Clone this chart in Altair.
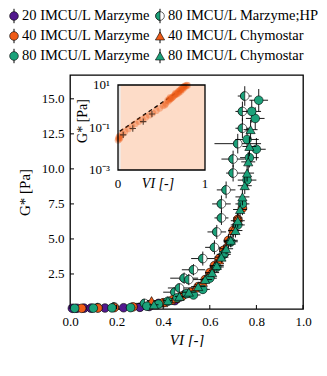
import altair as alt
import pandas as pd

W, H = 233, 234
YMAX = 16.7

# ---------------- main data ----------------
m20_vi = [0.01, 0.03, 0.06, 0.09, 0.15, 0.23, 0.30, 0.34, 0.38, 0.45, 0.47, 0.49]
m20_g = [0.05, 0.05, 0.06, 0.06, 0.07, 0.09, 0.12, 0.18, 0.40, 0.60, 0.85, 1.05]
m20_xe = [0.01, 0.01, 0.01, 0.01, 0.015, 0.015, 0.02, 0.02, 0.02, 0.02, 0.02, 0.02]
m20_ye = [0.03, 0.03, 0.03, 0.03, 0.03, 0.04, 0.05, 0.05, 0.08, 0.10, 0.15, 0.15]

m40_vi = [0.05, 0.12, 0.19, 0.27, 0.34, 0.40, 0.44, 0.48, 0.52, 0.55, 0.58, 0.60, 0.62, 0.64, 0.66, 0.68, 0.70, 0.72, 0.74]
m40_g = [0.05, 0.07, 0.10, 0.15, 0.25, 0.45, 0.65, 0.90, 1.2, 1.6, 2.1, 2.6, 3.1, 3.6, 4.2, 4.9, 5.6, 6.4, 7.2]
m40_xe = [0.01, 0.01, 0.015, 0.02, 0.02, 0.02, 0.02, 0.02, 0.02, 0.02, 0.02, 0.02, 0.02, 0.02, 0.02, 0.02, 0.02, 0.02, 0.02]
m40_ye = [0.03, 0.03, 0.05, 0.05, 0.1, 0.1, 0.15, 0.2, 0.2, 0.25, 0.3, 0.3, 0.35, 0.4, 0.4, 0.45, 0.5, 0.5, 0.5]

m80_vi = [0.02, 0.10, 0.18, 0.26, 0.33, 0.38, 0.42, 0.46, 0.50, 0.53, 0.57, 0.60, 0.63, 0.66, 0.69, 0.72, 0.74, 0.76, 0.77, 0.80, 0.76, 0.795, 0.78, 0.81]
m80_g = [0.05, 0.06, 0.08, 0.10, 0.20, 0.35, 0.55, 0.80, 1.1, 1.0, 1.4, 2.2, 3.0, 3.9, 4.8, 6.0, 7.5, 9.2, 10.8, 11.4, 12.1, 13.6, 14.1, 14.9]
m80_xe = [0.01, 0.01, 0.015, 0.02, 0.02, 0.02, 0.02, 0.02, 0.03, 0.03, 0.03, 0.03, 0.03, 0.03, 0.03, 0.03, 0.03, 0.04, 0.04, 0.04, 0.05, 0.04, 0.04, 0.04]
m80_ye = [0.03, 0.03, 0.05, 0.05, 0.1, 0.1, 0.15, 0.2, 0.2, 0.25, 0.3, 0.3, 0.35, 0.4, 0.4, 0.5, 0.6, 0.7, 0.7, 0.8, 0.8, 0.8, 0.8, 0.8]

hp_vi = [0.12, 0.19, 0.32, 0.45, 0.47, 0.49, 0.51, 0.53, 0.57, 0.62, 0.63, 0.65, 0.65, 0.67, 0.70, 0.70, 0.72, 0.74, 0.74, 0.75]
hp_g = [0.10, 0.15, 0.40, 1.2, 1.5, 2.2, 2.1, 2.8, 3.6, 4.4, 5.5, 6.5, 7.5, 8.5, 9.7, 10.7, 11.8, 12.9, 14.1, 15.2]
hp_xe = [0.02, 0.02, 0.06, 0.05, 0.05, 0.06, 0.04, 0.05, 0.05, 0.04, 0.04, 0.03, 0.04, 0.04, 0.03, 0.05, 0.10, 0.03, 0.03, 0.03]
hp_ye = [0.05, 0.05, 0.2, 0.3, 0.3, 0.4, 0.4, 0.4, 0.5, 0.5, 0.5, 0.5, 0.6, 0.6, 0.6, 0.6, 0.7, 0.7, 0.7, 0.7]

c40_vi = [0.35, 0.40, 0.45, 0.50, 0.54, 0.57, 0.60, 0.62, 0.64, 0.66, 0.68, 0.70, 0.72]
c40_g = [0.60, 0.45, 0.75, 1.1, 1.5, 1.9, 2.5, 3.0, 3.5, 4.1, 4.8, 5.6, 6.5]
c40_xe = [0.02, 0.02, 0.02, 0.02, 0.02, 0.02, 0.02, 0.02, 0.02, 0.02, 0.02, 0.02, 0.02]
c40_ye = [0.1, 0.1, 0.15, 0.2, 0.25, 0.3, 0.3, 0.35, 0.4, 0.4, 0.45, 0.5, 0.5]

c80_vi = [0.36, 0.42, 0.47, 0.51, 0.55, 0.58, 0.61, 0.63, 0.65, 0.67, 0.69, 0.71, 0.72, 0.73, 0.74, 0.75, 0.76, 0.765, 0.77, 0.775]
c80_g = [0.3, 0.6, 0.9, 1.2, 1.6, 2.1, 2.6, 3.1, 3.7, 4.3, 4.9, 5.6, 6.3, 7.1, 8.0, 8.8, 9.7, 10.5, 11.6, 12.8]
c80_xe = [0.02, 0.02, 0.02, 0.03, 0.03, 0.03, 0.03, 0.03, 0.03, 0.03, 0.03, 0.03, 0.03, 0.03, 0.03, 0.03, 0.03, 0.03, 0.03, 0.03]
c80_ye = [0.1, 0.15, 0.2, 0.2, 0.25, 0.3, 0.3, 0.35, 0.4, 0.4, 0.45, 0.5, 0.5, 0.5, 0.6, 0.6, 0.6, 0.7, 0.7, 0.7]

series_names = ["20 IMCU/L Marzyme", "40 IMCU/L Marzyme", "80 IMCU/L Marzyme",
                "80 IMCU/L Marzyme;HP", "40 IMCU/L Chymostar", "80 IMCU/L Chymostar"]
legend_col = [0, 0, 0, 1, 1, 1]
legend_row = [0, 1, 2, 0, 1, 2]

xticks = [0.0, 0.2, 0.4, 0.6, 0.8, 1.0]
yticks = [2.5, 5.0, 7.5, 10.0, 12.5, 15.0]

# ---------------- inset data ----------------
inset_vi = [0.0, 0.005, 0.01, 0.015, 0.02, 0.025, 0.05, 0.08, 0.12, 0.16, 0.2, 0.24, 0.28, 0.32,
            0.36, 0.4, 0.44, 0.48, 0.52, 0.55, 0.57, 0.58, 0.6, 0.6, 0.62, 0.63, 0.64, 0.66, 0.66,
            0.68, 0.69, 0.7, 0.71, 0.72, 0.73, 0.74, 0.75, 0.76, 0.77, 0.78,
            0.54, 0.59, 0.61, 0.65, 0.67, 0.7, 0.72, 0.74, 0.76, 0.79, 0.8]
inset_g = [0.025, 0.03, 0.035, 0.028, 0.04, 0.033, 0.05, 0.065, 0.085, 0.11, 0.15, 0.19, 0.24, 0.3,
           0.38, 0.48, 0.62, 0.8, 1.05, 1.35, 1.9, 1.7, 2.1, 2.6, 2.5, 2.7, 3.0, 3.5, 4.0,
           3.8, 4.8, 4.3, 5.5, 5.0, 6.8, 6.0, 8.0, 7.3, 9.2, 8.8,
           1.15, 2.2, 2.3, 3.3, 3.9, 5.1, 6.1, 7.0, 8.4, 10.0, 9.6]
plus_vi = [0.06, 0.17, 0.29, 0.39]
plus_g = [0.045, 0.09, 0.19, 0.43]
fit_vi = [0.02, 0.80]
fit_g = [0.065, 9.8]
inset_xticks = [0, 1]
inset_xlabels = ["0", "1"]
inset_yticks = [0.001, 0.1, 10]
inset_ylabels = ["10⁻³", "10⁻¹", "10¹"]
inset_xlim = [0.0, 1.0]
inset_ylim = [0.001, 10.0]
strip_end = 0.03

PURPLE = "#52198e"
ORANGE = "#ef5b17"
GREEN = "#1ba27a"
PEACH = "#fddcc8"
HALF = "M0,-1A1,1,0,0,0,0,1Z"
MS = 75
FONT = "Liberation Serif"

# ---------------- build tables ----------------
rows = []
for name, vi, g, xe, ye in [
    (series_names[0], m20_vi, m20_g, m20_xe, m20_ye),
    (series_names[1], m40_vi, m40_g, m40_xe, m40_ye),
    (series_names[2], m80_vi, m80_g, m80_xe, m80_ye),
    (series_names[3], hp_vi, hp_g, hp_xe, hp_ye),
    (series_names[4], c40_vi, c40_g, c40_xe, c40_ye),
    (series_names[5], c80_vi, c80_g, c80_xe, c80_ye),
]:
    for a, b, c, d in zip(vi, g, xe, ye):
        rows.append(dict(series=name, VI=a, G=b, x_lo=a - c, x_hi=a + c,
                         g_lo=max(b - d, 0.0), g_hi=b + d))
main_df = pd.DataFrame(rows)

xs = alt.Scale(domain=[0, 1], nice=False, zero=False)
ys = alt.Scale(domain=[0, YMAX], nice=False, zero=False)

style = {
    series_names[0]: (PURPLE, "circle", False),
    series_names[1]: (ORANGE, "circle", False),
    series_names[2]: (GREEN, "circle", False),
    series_names[3]: (GREEN, "circle", True),
    series_names[4]: (ORANGE, "triangle-up", False),
    series_names[5]: (GREEN, "triangle-up", False),
}


def main_series(name):
    color, shape, hp = style[name]
    base = alt.Chart(main_df).transform_filter(alt.datum.series == name)
    hb = base.mark_rule(color="black", strokeWidth=0.9).encode(
        x=alt.X("x_lo:Q", scale=xs, axis=None), x2="x_hi:Q",
        y=alt.Y("G:Q", scale=ys, axis=None))
    vb = base.mark_rule(color="black", strokeWidth=0.9).encode(
        x=alt.X("VI:Q", scale=xs, axis=None),
        y=alt.Y("g_lo:Q", scale=ys, axis=None), y2="g_hi:Q")
    enc = dict(x=alt.X("VI:Q", scale=xs, axis=None), y=alt.Y("G:Q", scale=ys, axis=None))
    out = [hb, vb]
    if hp:
        out.append(base.mark_point(shape="circle", filled=True, fill="white", stroke="black",
                                   strokeWidth=0.6, size=MS, opacity=1).encode(**enc))
        out.append(base.mark_point(shape=HALF, filled=True, fill=color, stroke="black",
                                   strokeWidth=0.6, size=MS, opacity=1).encode(**enc))
    else:
        sz = 85 if shape == "triangle-up" else MS
        out.append(base.mark_point(shape=shape, filled=True, fill=color, stroke="black",
                                   strokeWidth=0.6, size=sz, opacity=1).encode(**enc))
    return out


main_layers = []
for nm in [series_names[0], series_names[3], series_names[1], series_names[4],
           series_names[2], series_names[5]]:
    main_layers += main_series(nm)

axis_layer = alt.Chart(main_df).mark_point(opacity=0).encode(
    x=alt.X("VI:Q", scale=xs, axis=alt.Axis(
        orient="bottom", values=xticks, format=".1f", ticks=False, domain=False, grid=False,
        labelFlush=False, labelPadding=6, title="VI [-]", titlePadding=4,
        titleFontStyle="italic")),
    y=alt.Y("G:Q", scale=ys, axis=alt.Axis(
        orient="left", values=yticks, format=".1f", ticks=False, domain=False, grid=False,
        labelPadding=6, title="G* [Pa]", titlePadding=9)))

# inward tick marks, placed by the main scales
xt_ticks = alt.Chart(pd.DataFrame({"t": xticks})).mark_rule(color="black", strokeWidth=1).encode(
    x=alt.X("t:Q", scale=xs, axis=None), y=alt.value(H), y2=alt.value(H - 4))
yt_ticks = alt.Chart(pd.DataFrame({"t": yticks})).mark_rule(color="black", strokeWidth=1).encode(
    y=alt.Y("t:Q", scale=ys, axis=None), x=alt.value(0), x2=alt.value(4))

main = alt.layer(*main_layers, xt_ticks, yt_ticks, axis_layer).resolve_axis(
    x="independent", y="independent")

# ---------------- inset ----------------
ixs = alt.Scale(domain=inset_xlim, range=[48, 135], nice=False, zero=False)
iys = alt.Scale(type="log", domain=inset_ylim, range=[95, 10], nice=False)

box_df = pd.DataFrame({"x0": [inset_xlim[0]], "xs": [strip_end], "x1": [inset_xlim[1]],
                       "y0": [inset_ylim[0]], "y1": [inset_ylim[1]]})
strip = alt.Chart(box_df).mark_rect(fill="#e4e4e4").encode(
    x=alt.X("x0:Q", scale=ixs, axis=None), x2="xs:Q",
    y=alt.Y("y0:Q", scale=iys, axis=None), y2="y1:Q")
peach = alt.Chart(box_df).mark_rect(fill=PEACH).encode(
    x=alt.X("xs:Q", scale=ixs, axis=None), x2="x1:Q",
    y=alt.Y("y0:Q", scale=iys, axis=None), y2="y1:Q")
fit = alt.Chart(pd.DataFrame({"VI": fit_vi, "G": fit_g})).mark_line(
    color="black", strokeDash=[4, 3], strokeWidth=1.5).encode(
    x=alt.X("VI:Q", scale=ixs, axis=None), y=alt.Y("G:Q", scale=iys, axis=None))
opts = alt.Chart(pd.DataFrame({"VI": inset_vi, "G": inset_g})).mark_circle(
    color=ORANGE, opacity=0.35, size=45).encode(
    x=alt.X("VI:Q", scale=ixs, axis=None), y=alt.Y("G:Q", scale=iys, axis=None))
plus = alt.Chart(pd.DataFrame({"VI": plus_vi, "G": plus_g})).mark_point(
    shape="M-1,0L1,0M0,-1L0,1", filled=False, stroke="#3b2518", strokeWidth=1.1,
    size=40, opacity=0.85).encode(
    x=alt.X("VI:Q", scale=ixs, axis=None), y=alt.Y("G:Q", scale=iys, axis=None))
frame = alt.Chart(box_df).mark_rect(fillOpacity=0, stroke="black", strokeWidth=1.3).encode(
    x=alt.X("x0:Q", scale=ixs, axis=None), x2="x1:Q",
    y=alt.Y("y0:Q", scale=iys, axis=None), y2="y1:Q")

# inset tick labels and titles (text placed through the inset scales)
ix_lab = alt.Chart(pd.DataFrame({"t": inset_xticks, "lab": inset_xlabels})).mark_text(
    font=FONT, fontSize=13, color="black", baseline="middle", dy=14).encode(
    x=alt.X("t:Q", scale=ixs, axis=None), y=alt.value(95), text="lab:N")
iy_lab = alt.Chart(pd.DataFrame({"t": inset_yticks, "lab": inset_ylabels})).mark_text(
    font=FONT, fontSize=13, color="black", baseline="middle", align="right", dx=-8).encode(
    y=alt.Y("t:Q", scale=iys, axis=None), x=alt.value(48), text="lab:N")
ix_title = alt.Chart(pd.DataFrame({"lab": ["VI [-]"]})).mark_text(
    font=FONT, fontSize=14, fontStyle="italic", color="black", baseline="middle").encode(
    x=alt.value(88), y=alt.value(109), text="lab:N")
iy_title = alt.Chart(pd.DataFrame({"lab": ["G* [Pa]"]})).mark_text(
    font=FONT, fontSize=14, color="black", baseline="middle", angle=270).encode(
    x=alt.value(13), y=alt.value(46), text="lab:N")

inset = alt.layer(strip, peach, fit, opts, plus, frame, ix_lab, iy_lab, ix_title, iy_title)

# ---------------- legend ----------------
leg_df = pd.DataFrame({"name": series_names, "col": legend_col, "row": legend_row})
lxs = alt.Scale(domain=[0, 1], range=[-56, 90], nice=False, zero=False)
lys = alt.Scale(domain=[0, 2], range=[-59, -19], nice=False, zero=False)
leg_layers = []
for nm in series_names:
    color, shape, hp = style[nm]
    b = alt.Chart(leg_df).transform_filter(alt.datum.name == nm)
    leg_layers.append(b.transform_calculate(lo="datum.row - 0.36", hi="datum.row + 0.36").mark_rule(
        color="black", strokeWidth=1).encode(
        x=alt.X("col:Q", scale=lxs, axis=None), y=alt.Y("lo:Q", scale=lys, axis=None), y2="hi:Q"))
    enc = dict(x=alt.X("col:Q", scale=lxs, axis=None), y=alt.Y("row:Q", scale=lys, axis=None))
    if hp:
        leg_layers.append(b.mark_point(shape="circle", filled=True, fill="white", stroke="black",
                                       strokeWidth=0.6, size=MS, opacity=1).encode(**enc))
        leg_layers.append(b.mark_point(shape=HALF, filled=True, fill=color, stroke="black",
                                       strokeWidth=0.6, size=MS, opacity=1).encode(**enc))
    else:
        sz = 85 if shape == "triangle-up" else MS
        leg_layers.append(b.mark_point(shape=shape, filled=True, fill=color, stroke="black",
                                       strokeWidth=0.6, size=sz, opacity=1).encode(**enc))
leg_text = alt.Chart(leg_df).mark_text(align="left", baseline="middle", dx=8, font=FONT,
                                       fontSize=14.5, color="black").encode(
    x=alt.X("col:Q", scale=lxs, axis=None), y=alt.Y("row:Q", scale=lys, axis=None), text="name:N")
legend = alt.layer(*leg_layers, leg_text)

chart = alt.layer(main, inset, legend).resolve_scale(
    x="independent", y="independent"
).properties(width=W, height=H, padding=0).configure_view(
    stroke="black", strokeWidth=1.3
).configure_axis(
    labelFont=FONT, labelFontSize=13, titleFont=FONT, titleFontSize=15,
    titleFontWeight="normal", labelColor="black", titleColor="black", tickColor="black"
)

chart.save("out.html", embed_options={"renderer": "svg", "actions": False})
